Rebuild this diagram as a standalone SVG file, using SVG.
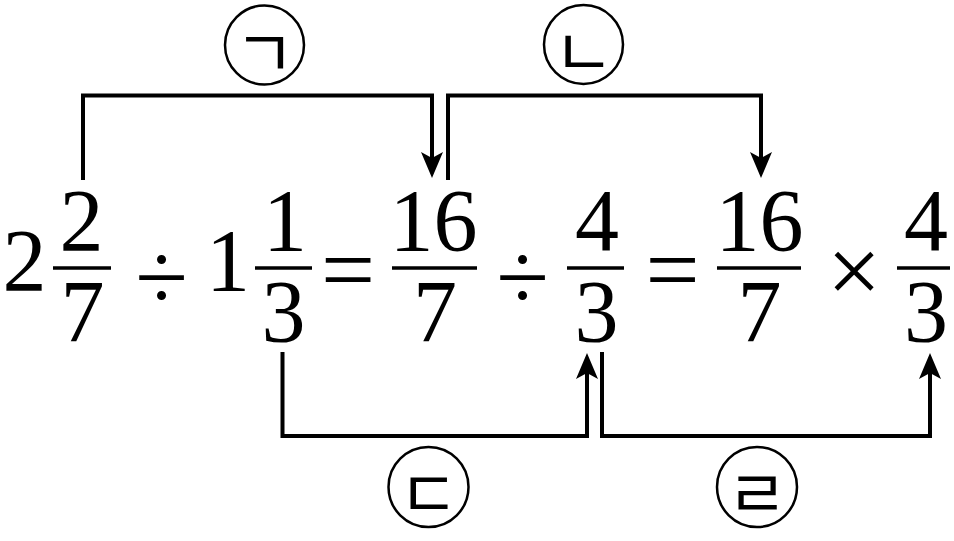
<svg xmlns="http://www.w3.org/2000/svg" width="954" height="541" viewBox="0 0 954 541">
<defs>
<style>
.d{font-family:"Liberation Serif","Times New Roman",serif;font-size:88px;fill:#000;text-anchor:middle}
.op{font-family:"Liberation Serif","Times New Roman",serif;font-size:96px;fill:#000;text-anchor:middle}
.bar{stroke:#000;stroke-width:3.5}
.lab{fill:#fff;stroke:#000;stroke-width:2.5}
.jamo{font-family:"Noto Sans CJK KR",sans-serif;font-size:66px;fill:#000;text-anchor:middle;dominant-baseline:central}
.conn{fill:none;stroke:#000;stroke-width:4;stroke-linejoin:miter}
</style>
<marker id="ah" markerUnits="userSpaceOnUse" markerWidth="40" markerHeight="30" viewBox="-10 -15 40 30" refX="0" refY="0" orient="auto">
<path d="M20,0 L-6,-11 L0,0 L-6,11 Z" fill="#000"/>
</marker>
</defs>
<rect width="954" height="541" fill="#fff"/>
<g id="connectors">
<path id="c1" class="conn" d="M83,180 V95.5 H432 V158" marker-end="url(#ah)"/>
<path id="c2" class="conn" d="M448,180 V95.5 H761 V158" marker-end="url(#ah)"/>
<path id="c3" class="conn" d="M282.5,352 V436 H587 V373" marker-end="url(#ah)"/>
<path id="c4" class="conn" d="M602,352 V436 H930 V373" marker-end="url(#ah)"/>
</g>
<g id="expr">
<g id="t1"><text class="d" x="24.5" y="290">2</text><text class="d" x="81.5" y="250">2</text><line class="bar" x1="53" y1="268" x2="111" y2="268"/><text class="d" x="82.5" y="341">7</text></g>
<g id="op1"><text class="op" x="161.5" y="309" font-size="115">÷</text></g>
<g id="t2"><text class="d" x="228" y="290">1</text><text class="d" x="285" y="250">1</text><line class="bar" x1="255" y1="268" x2="312" y2="268"/><text class="d" x="283.5" y="341">3</text></g>
<g id="op2"><text class="op" x="348" y="302">=</text></g>
<g id="t3"><text class="d" x="433.5" y="250">16</text><line class="bar" x1="392" y1="268" x2="477" y2="268"/><text class="d" x="435" y="341">7</text></g>
<g id="op3"><text class="op" x="522.5" y="309" font-size="115">÷</text></g>
<g id="t4"><text class="d" x="597" y="250">4</text><line class="bar" x1="567" y1="268" x2="624" y2="268"/><text class="d" x="596.5" y="341">3</text></g>
<g id="op4"><text class="op" x="672.5" y="302">=</text></g>
<g id="t5"><text class="d" x="759.5" y="250">16</text><line class="bar" x1="717" y1="268" x2="801" y2="268"/><text class="d" x="759.5" y="341">7</text></g>
<g id="op5"><text class="op" x="854" y="303" font-size="110">×</text></g>
<g id="t6"><text class="d" x="926" y="250">4</text><line class="bar" x1="897" y1="268" x2="950" y2="268"/><text class="d" x="926" y="341">3</text></g>
</g>
<g id="label-a"><circle class="lab" cx="264.5" cy="45" r="39.5"/><text class="jamo" x="264.5" y="48">ㄱ</text></g>
<g id="label-b"><circle class="lab" cx="583.5" cy="44.5" r="39.5"/><text class="jamo" x="583.5" y="47">ㄴ</text></g>
<g id="label-c"><circle class="lab" cx="428.5" cy="487" r="40"/><text class="jamo" x="428.5" y="488.5">ㄷ</text></g>
<g id="label-d"><circle class="lab" cx="757" cy="487" r="40"/><text class="jamo" x="757" y="488.5">ㄹ</text></g>
</svg>
